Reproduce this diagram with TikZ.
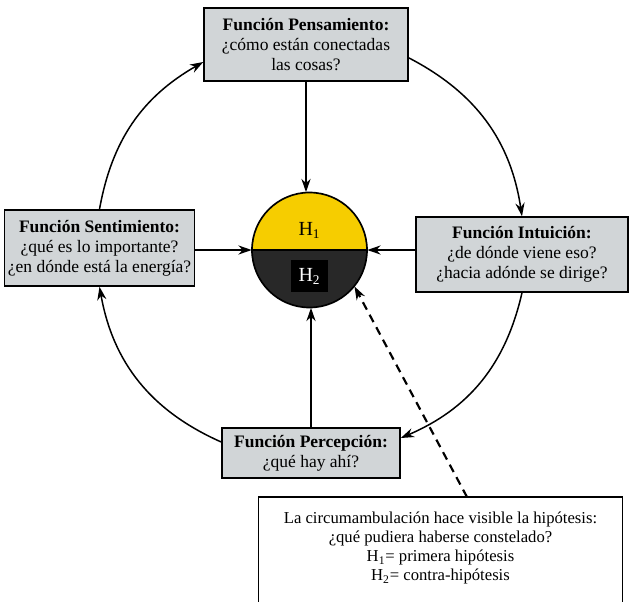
\documentclass[tikz,border=0pt]{standalone}
\usepackage{fontspec}
\setmainfont{Liberation Serif}
\usetikzlibrary{arrows.meta}

\definecolor{boxgray}{RGB}{209,213,215}
\definecolor{hypyellow}{RGB}{246,205,0}
\definecolor{hypdark}{RGB}{40,40,40}

\begin{document}
\begin{tikzpicture}[x=0.6pt,y=-0.6pt,
funcbox/.style={draw,line width=0.9pt,fill=boxgray,align=center,
  inner sep=2pt,font=\fontsize{10.5}{12}\selectfont},
flow/.style={line width=0.9pt,-{Stealth[length=8pt,width=5.5pt]}},
hint/.style={line width=1.3pt,dash pattern=on 5pt off 3.5pt,
  -{Stealth[length=8pt,width=5.5pt]}}]

\useasboundingbox (0,0) rectangle (632,601);

%=================================================
% FUNCTION BOXES
%=================================================

% Pensamiento
\node[funcbox,minimum width=122.4pt,minimum height=43.8pt]
(think) at (306,44.5)
{\textbf{Función Pensamiento:}\\ ¿cómo están conectadas\\ las cosas?};

% Sentimiento
\node[funcbox,minimum width=109.8pt,minimum height=45.6pt]
(feel) at (99.5,248)
{\textbf{Función Sentimiento:}\\ ¿qué es lo importante?\\ ¿en dónde está la energía?};

% Intuicion
\node[funcbox,minimum width=127.2pt,minimum height=45pt]
(intuit) at (522,254.5)
{\textbf{Función Intuición:}\\ ¿de dónde viene eso?\\ ¿hacia adónde se dirige?};

% Percepcion
\node[funcbox,minimum width=106.8pt,minimum height=30pt]
(sense) at (311,453)
{\textbf{Función Percepción:}\\ ¿qué hay ahí?};

%=================================================
% HYPOTHESIS CIRCLE
%=================================================

\node[circle,minimum size=69pt,inner sep=0pt]
(hyp) at (309.5,250) {};

\fill[hypyellow]
(hyp.east) arc[start angle=0,end angle=180,radius=34.5pt] -- cycle;
\fill[hypdark]
(hyp.west) arc[start angle=180,end angle=360,radius=34.5pt] -- cycle;
\draw[line width=1pt] (hyp.center) circle[radius=34.5pt];
\draw[line width=0.8pt] (hyp.west) -- (hyp.east);

\node[font=\fontsize{12}{14}\selectfont]
(hone) at (309.5,230) {H\textsubscript{1}};

\node[fill=black,text=white,minimum width=22.2pt,minimum height=19.2pt,
inner sep=0pt,font=\fontsize{12}{14}\selectfont]
(htwo) at (309.5,276) {H\textsubscript{2}};

%=================================================
% ARROWS
%=================================================

% into the circle
\draw[flow] (think.south) -- (think.south |- hyp.north);
\draw[flow] (feel.east |- hyp.west) -- (hyp.west);
\draw[flow] (intuit.west |- hyp.east) -- (hyp.east);
\draw[flow] (sense.north) -- (sense.north |- hyp.south);

% circumambulation
\draw[flow] ([yshift=-8pt]think.east) to[bend left=27] (intuit.north);
\draw[flow] (intuit.south) to[bend left=27] ([yshift=9pt]sense.east);
\draw[flow] ([yshift=6.6pt]sense.west) to[bend left=28] (feel.south);
\draw[flow] (feel.north) to[bend left=25] ([yshift=-10.5pt]think.west);

%=================================================
% NOTE
%=================================================

\node[anchor=north,minimum width=217.8pt,align=center,inner xsep=2pt,
inner ysep=9pt,font=\fontsize{10}{11.4}\selectfont]
(note) at (440.5,497)
{La circumambulación hace visible la hipótesis:\\
¿qué pudiera haberse constelado?\\
H\textsubscript{1}= primera hipótesis\\
H\textsubscript{2}= contra-hipótesis};

\draw[line width=0.9pt]
([yshift=-20pt]note.south west) -- (note.north west)
-- (note.north east) -- ([yshift=-20pt]note.south east);

\draw[hint] ([xshift=15.9pt]note.north) -- (hyp.-39);

\end{tikzpicture}
\end{document}
